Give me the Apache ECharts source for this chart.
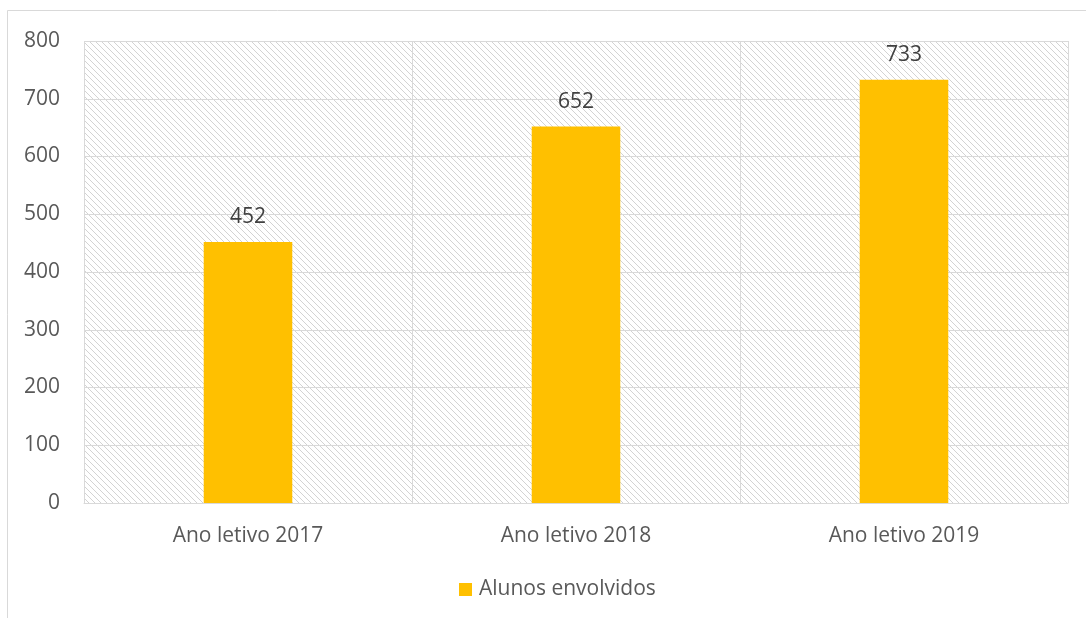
<!DOCTYPE html>
<html><head><meta charset="utf-8">
<script src="https://cdn.jsdelivr.net/npm/echarts@6/dist/echarts.min.js"></script>
<style>html,body{margin:0;padding:0;background:#fff}#c{width:1086px;height:618px}</style>
</head><body><div id="c"></div>
<script>
const categories = ['Ano letivo 2017', 'Ano letivo 2018', 'Ano letivo 2019'];
const seriesName = 'Alunos envolvidos';
const values = [452, 652, 733];
const yTicks = [0, 100, 200, 300, 400, 500, 600, 700, 800];

// diagonal hatch pattern
const tile = document.createElement('canvas');
tile.width = 6; tile.height = 6;
const g = tile.getContext('2d');
g.fillStyle = '#ffffff'; g.fillRect(0,0,6,6);
g.strokeStyle = '#d3d3d3'; g.lineWidth = 1;
for (let k = -6; k <= 12; k += 6) {
  g.beginPath(); g.moveTo(k, 0); g.lineTo(k + 6, 6); g.stroke();
}

const FONT = 'Open Sans';
const FS = 21;
const chart = echarts.init(document.getElementById('c'), null, {renderer: 'canvas'});
chart.setOption({
  animation: false,
  backgroundColor: '#fff',
  graphic: [{
    type: 'rect', shape: {x: 7.5, y: 10.5, width: 1200, height: 700},
    style: {fill: null, stroke: '#d9d9d9', lineWidth: 1}, silent: true, z: -10
  }],
  grid: {left: 84, right: 18, top: 41, bottom: 115, show: true,
    backgroundColor: {image: tile, repeat: 'repeat'}, borderWidth: 0},
  legend: {
    top: 574, left: 454, itemWidth: 13, itemHeight: 13, itemGap: 10,
    icon: 'rect',
    textStyle: {fontFamily: FONT, fontSize: FS, color: '#595959', padding: [0,0,0,2]},
    data: [seriesName]
  },
  xAxis: {
    type: 'category', data: categories,
    axisLine: {show: true, lineStyle: {color: '#d9d9d9', width: 1}},
    axisTick: {show: false},
    splitLine: {show: true, lineStyle: {color: '#d9d9d9', width: 1}},
    axisLabel: {fontFamily: FONT, fontSize: FS, color: '#595959', margin: 23}
  },
  yAxis: {
    type: 'value', min: yTicks[0], max: yTicks[yTicks.length-1], interval: 100,
    axisLine: {show: false}, axisTick: {show: false},
    splitLine: {lineStyle: {color: '#d9d9d9', width: 1}},
    axisLabel: {fontFamily: FONT, fontSize: FS, color: '#595959', margin: 24}
  },
  series: [{
    name: seriesName, type: 'bar', data: values, barWidth: '27%',
    itemStyle: {color: '#FFC000'},
    label: {show: true, position: 'top', distance: 14, fontFamily: FONT, fontSize: FS, color: '#404040'}
  }]
});
</script></body></html>
